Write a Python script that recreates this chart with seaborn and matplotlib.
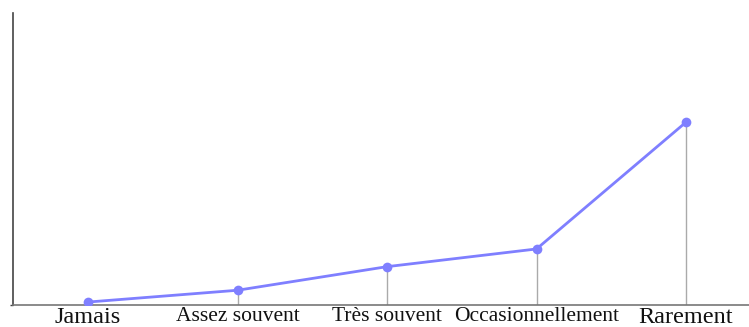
import matplotlib
matplotlib.use("Agg")
import matplotlib.pyplot as plt
import seaborn as sns
import pandas as pd

# Share of answers per frequency category (%)
categories = ["Jamais", "Assez souvent", "Très souvent", "Occasionnellement", "Rarement"]
values = [1, 5, 13, 19, 62]
label_sizes = [17.5, 15.5, 15.5, 15.5, 17.5]

sns.set_style("white")
plt.rcParams["font.family"] = ["Liberation Serif", "DejaVu Serif"]

df = pd.DataFrame({"pos": range(len(categories)), "value": values})

fig = plt.figure(figsize=(7.49, 3.27), dpi=100)
ax = fig.add_axes([13 / 749, 22 / 327, (749 - 13) / 749, 292 / 327])

# Drop lines from each point to the baseline
ax.vlines(df["pos"], 0, df["value"], color="#aaaaaa", linewidth=1.0, zorder=1)

sns.lineplot(data=df, x="pos", y="value", ax=ax, color="#7f7fff",
             linewidth=2.0, marker="o", markersize=7,
             markeredgewidth=0, zorder=3)

ax.set_xlim(-0.5017, 4.421)
ax.set_ylim(0, 99)
ax.set_xticks(range(len(categories)))
ax.set_xticklabels(categories)
for lbl, fs in zip(ax.get_xticklabels(), label_sizes):
    lbl.set_fontsize(fs)
    lbl.set_color("#111111")
ax.tick_params(axis="x", length=0, pad=1.5)
ax.set_yticks([0])
ax.set_yticklabels([])
ax.tick_params(axis="y", length=2, width=1, color="#444444", left=True)
ax.set_xlabel("")
ax.set_ylabel("")

for side in ["top", "right"]:
    ax.spines[side].set_visible(False)
ax.spines["left"].set_color("#444444")
ax.spines["left"].set_linewidth(1.2)
ax.spines["bottom"].set_color("#777777")
ax.spines["bottom"].set_linewidth(1.2)

fig.savefig("out.png", dpi=100)
